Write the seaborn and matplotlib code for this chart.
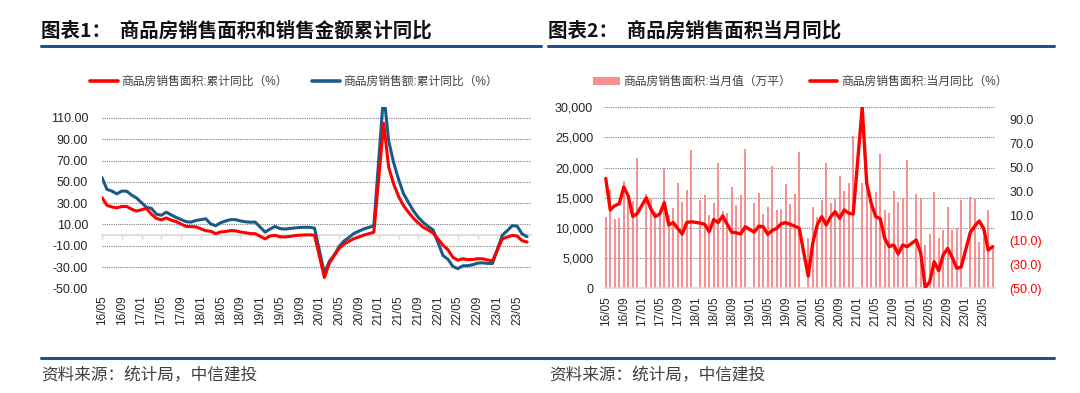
import numpy as np
import pandas as pd
import matplotlib
matplotlib.use('Agg')
import matplotlib.pyplot as plt
import seaborn as sns
from matplotlib.lines import Line2D
from matplotlib.patches import Patch

nan = np.nan

# 月份：2016-05 ~ 2023-07（1月无单独数据）
months = pd.date_range('2016-05-01', periods=87, freq='MS')
month_labels = months.strftime('%y/%m')

# 图表1：累计同比（%）
area_cum = [35.2, 27.9, 26.4, 25.5, 26.9, 26.8, 24.3, 22.5,
            nan, 25.1, 19.5, 15.7, 14.3, 16.1, 14.0, 12.7, 10.3, 8.2, 7.9, 7.7,
            nan, 4.1, 3.6, 1.3, 2.9, 3.3, 4.2, 4.0, 2.9, 2.2, 1.4, 1.3,
            nan, -3.6, -0.9, -0.3, -1.6, -1.8, -1.3, -0.6, -0.1, 0.1, 0.2, -0.1,
            nan, -39.9, -26.3, -19.3, -12.3, -8.4, -5.8, -3.3, -1.8, 0.0, 1.3, 2.6,
            nan, 104.9, 63.8, 48.1, 36.3, 27.7, 21.5, 15.9, 11.3, 7.3, 4.8, 1.9,
            nan, -9.6, -13.8, -20.9, -23.6, -22.2, -23.1, -23.0, -22.2, -22.3, -23.3, -24.3,
            nan, -3.6, -1.8, -0.4, -0.9, -5.3, -6.5]
amount_cum = [54.0, 42.9, 41.3, 38.7, 41.3, 41.2, 37.5, 34.8,
              nan, 26.0, 25.1, 19.6, 18.6, 21.5, 18.9, 16.6, 14.6, 12.6, 12.2, 13.7,
              nan, 15.3, 10.4, 8.8, 11.6, 13.2, 14.5, 14.5, 13.3, 12.5, 12.1, 12.2,
              nan, 2.8, 5.6, 8.1, 6.1, 5.6, 6.2, 6.7, 7.1, 7.3, 7.3, 6.5,
              nan, -35.9, -24.7, -18.6, -10.6, -5.4, -2.1, 1.6, 3.7, 5.8, 7.2, 8.7,
              nan, 133.4, 88.5, 68.2, 52.4, 38.9, 30.7, 22.8, 16.6, 11.8, 8.0, 4.8,
              nan, -19.3, -22.7, -29.5, -31.5, -28.9, -28.8, -27.9, -26.3, -26.1, -26.6, -26.7,
              nan, -0.1, 4.1, 8.8, 8.4, 1.1, -1.5]

# 图表2：当月值（万平）与当月同比（%）
area_month = [11880, 16300, 11440, 11660, 17790, 15500, 14500, 21550,
              nan, 15600, 14900, 12700, 12040, 20000, 12150, 13260, 17500, 14250, 16300, 22930,
              nan, 14640, 15470, 12150, 14200, 20720, 12820, 12490, 16850, 13810, 15470, 23090,
              nan, 14090, 15750, 12270, 13430, 20330, 12980, 13090, 17350, 14030, 15600, 22650,
              nan, 8400, 13480, 11880, 14640, 20720, 14200, 14750, 18620, 16190, 17510, 25300,
              nan, 17400, 18600, 14000, 16020, 22270, 12980, 12490, 16130, 14250, 15030, 21270,
              nan, 15690, 14750, 7180, 9010, 15910, 8290, 9670, 13540, 9670, 10060, 14590,
              nan, 15080, 14810, 7740, 8500, 13040, 6600]
area_month_yoy = [41.0, 15.0, 18.5, 20.0, 34.0, 26.5, 9.5, 12.0,
                  nan, 25.0, 16.0, 9.5, 11.5, 21.0, 2.5, 4.5, -0.5, -5.0, 4.5, 5.2,
                  nan, 4.0, 3.0, -3.0, 7.0, 4.5, 10.0, 3.0, -3.5, -4.0, -5.0, 1.0,
                  nan, -3.5, 1.5, 1.0, -5.3, -2.0, -0.3, 3.5, 4.4, 3.0, 1.5, -0.3,
                  nan, -40.0, -12.7, 2.5, 9.4, 2.5, 9.4, 13.5, 8.0, 15.0, 12.2, 11.6,
                  nan, 100.0, 37.0, 20.4, 9.4, 7.7, -8.6, -15.5, -14.1, -21.5, -14.1, -15.5,
                  nan, -9.9, -21.0, -49.5, -44.5, -28.0, -35.4, -22.4, -16.9, -24.3, -33.4, -32.3,
                  nan, -4.0, 1.5, 5.8, -0.5, -18.3, -15.5]

RED = '#FF0000'
BLUE = '#1B5A87'
PINK = '#F79090'
RULE = '#1F5286'
GRID = '#7F7F7F'
AXIS = '#D9D9D9'

sns.set_style('white')
plt.rcParams['font.family'] = ['Liberation Sans', 'Noto Sans CJK SC', 'DejaVu Sans']
plt.rcParams['axes.unicode_minus'] = False

df = pd.DataFrame({'idx': np.arange(len(months)), 'area_cum': area_cum, 'amount_cum': amount_cum,
                   'area_month': area_month, 'area_month_yoy': area_month_yoy})

fig = plt.figure(figsize=(10.8, 3.93), dpi=100)
W, H = 1080, 393
ax1 = fig.add_axes([102 / W, 0.2664, 429 / W, 0.4606])
ax2 = fig.add_axes([604.4 / W, 0.2664, 391 / W, 0.4606])

tick_pos = np.arange(0, len(months), 4)

# ---- 图表1 ----
sns.lineplot(data=df.dropna(subset=['amount_cum']), x='idx', y='amount_cum', color=BLUE, lw=2.2, ax=ax1)
sns.lineplot(data=df.dropna(subset=['area_cum']), x='idx', y='area_cum', color=RED, lw=2.2, ax=ax1)
ax1.set_ylim(-50, 120)
ax1.set_xlim(0, 86.8)
yt = np.arange(-50, 111, 20)
ax1.set_yticks(yt)
ax1.set_yticklabels([f'{v:.2f}' for v in yt])
ax1.set_xticks(tick_pos)
ax1.set_xticklabels(month_labels[tick_pos])
for s in ax1.spines.values():
    s.set_visible(False)
for v in yt:
    ax1.axhline(v, color=GRID, ls=(0, (1, 1)), lw=0.8, zorder=0)
ax1.tick_params(axis='x', length=0, labelrotation=90, pad=5, labelsize=8.5, labelcolor='#262626')
ax1.tick_params(axis='y', length=0, pad=10, labelsize=9, labelcolor='#262626')
ax1.set_xlabel('')
ax1.set_ylabel('')
zero = ax1.secondary_xaxis(50 / 170)
zero.set_xticks(tick_pos)
zero.set_xticklabels([])
zero.tick_params(length=3, color=AXIS, width=1)
zero.spines['bottom'].set_color(AXIS)
zero.spines['bottom'].set_linewidth(1.2)

# ---- 图表2 ----
sns.barplot(data=df.dropna(subset=['area_month']), x='idx', y='area_month', native_scale=True,
            width=0.48, color=PINK, saturation=1, errorbar=None, ax=ax2, zorder=2, linewidth=0)
ax2.set_ylim(0, 30000)
ax2.set_xlim(-0.3, 86.6)
yt2 = np.arange(0, 30001, 5000)
ax2.set_yticks(yt2)
ax2.set_yticklabels([f'{v:,}' for v in yt2])
for v in yt2[1:]:
    ax2.axhline(v, color=GRID, ls=(0, (1, 1)), lw=0.8, zorder=0)
ax2.set_xticks(tick_pos)
ax2.set_xticklabels(month_labels[tick_pos])
for s in ['top', 'left', 'right']:
    ax2.spines[s].set_visible(False)
ax2.spines['bottom'].set_color(AXIS)
ax2.spines['bottom'].set_linewidth(1.2)
ax2.tick_params(axis='x', length=3, color=AXIS, labelrotation=90, pad=3, labelsize=8.5, labelcolor='#262626')
ax2.tick_params(axis='y', length=0, pad=8, labelsize=9, labelcolor='#262626')
ax2.set_xlabel('')
ax2.set_ylabel('')

ax2b = ax2.twinx()
sns.lineplot(data=df.dropna(subset=['area_month_yoy']), x='idx', y='area_month_yoy', color=RED, lw=2.4, ax=ax2b)
ax2b.set_ylim(-50, 100)
yt3 = np.arange(-50, 91, 20)
ax2b.set_yticks(yt3)
ax2b.set_yticklabels([f'{v:.1f}' if v >= 0 else f'({abs(v):.1f})' for v in yt3])
for lab, v in zip(ax2b.get_yticklabels(), yt3):
    lab.set_color(RED if v < 0 else '#262626')
for s in ax2b.spines.values():
    s.set_visible(False)
ax2b.tick_params(axis='y', length=0, pad=10, labelsize=9)
ax2b.set_ylabel('')
ax2b.set_xlim(-0.3, 86.6)

# ---- 图例 ----
leg1 = [Line2D([], [], color=RED, lw=2.6), Line2D([], [], color=BLUE, lw=2.6)]
fig.legend(leg1, ['商品房销售面积:累计同比（%）', '商品房销售额:累计同比（%）'],
           loc='center', bbox_to_anchor=(294 / W, 1 - 82 / H), ncol=2, frameon=False,
           fontsize=8.5, handlelength=2.4, columnspacing=2.0, handletextpad=0.3, labelcolor='#404040')
leg2 = [Patch(facecolor=PINK, edgecolor='none'), Line2D([], [], color=RED, lw=2.6)]
fig.legend(leg2, ['商品房销售面积:当月值（万平）', '商品房销售面积:当月同比（%）'],
           loc='center', bbox_to_anchor=(800 / W, 1 - 82 / H), ncol=2, frameon=False,
           fontsize=8.5, handlelength=2.3, handleheight=0.7, columnspacing=1.6, handletextpad=0.3,
           labelcolor='#404040')

# ---- 标题、分隔线、来源 ----
cjk = ['Noto Sans CJK SC', 'DejaVu Sans']
fig.text(41 / W, 1 - 31 / H, '图表1：  商品房销售面积和销售金额累计同比', fontsize=14, fontweight='bold',
         family=cjk, va='center', color='#111111')
fig.text(548 / W, 1 - 31 / H, '图表2：  商品房销售面积当月同比', fontsize=14, fontweight='bold',
         family=cjk, va='center', color='#111111')
for x0, x1 in [(41, 541), (548, 1054)]:
    fig.add_artist(Line2D([x0 / W, x1 / W], [1 - 46 / H] * 2, transform=fig.transFigure, color=RULE, lw=2.2))
fig.add_artist(Line2D([41 / W, 1054 / W], [1 - 358 / H] * 2, transform=fig.transFigure, color=RULE, lw=2.2))
fig.text(41 / W, 1 - 376 / H, '资料来源：统计局，中信建投', fontsize=12, style='italic', family=cjk,
         va='center', color='#404040')
fig.text(549 / W, 1 - 376 / H, '资料来源：统计局，中信建投', fontsize=12, style='italic', family=cjk,
         va='center', color='#404040')

fig.savefig('out.png', dpi=100)
